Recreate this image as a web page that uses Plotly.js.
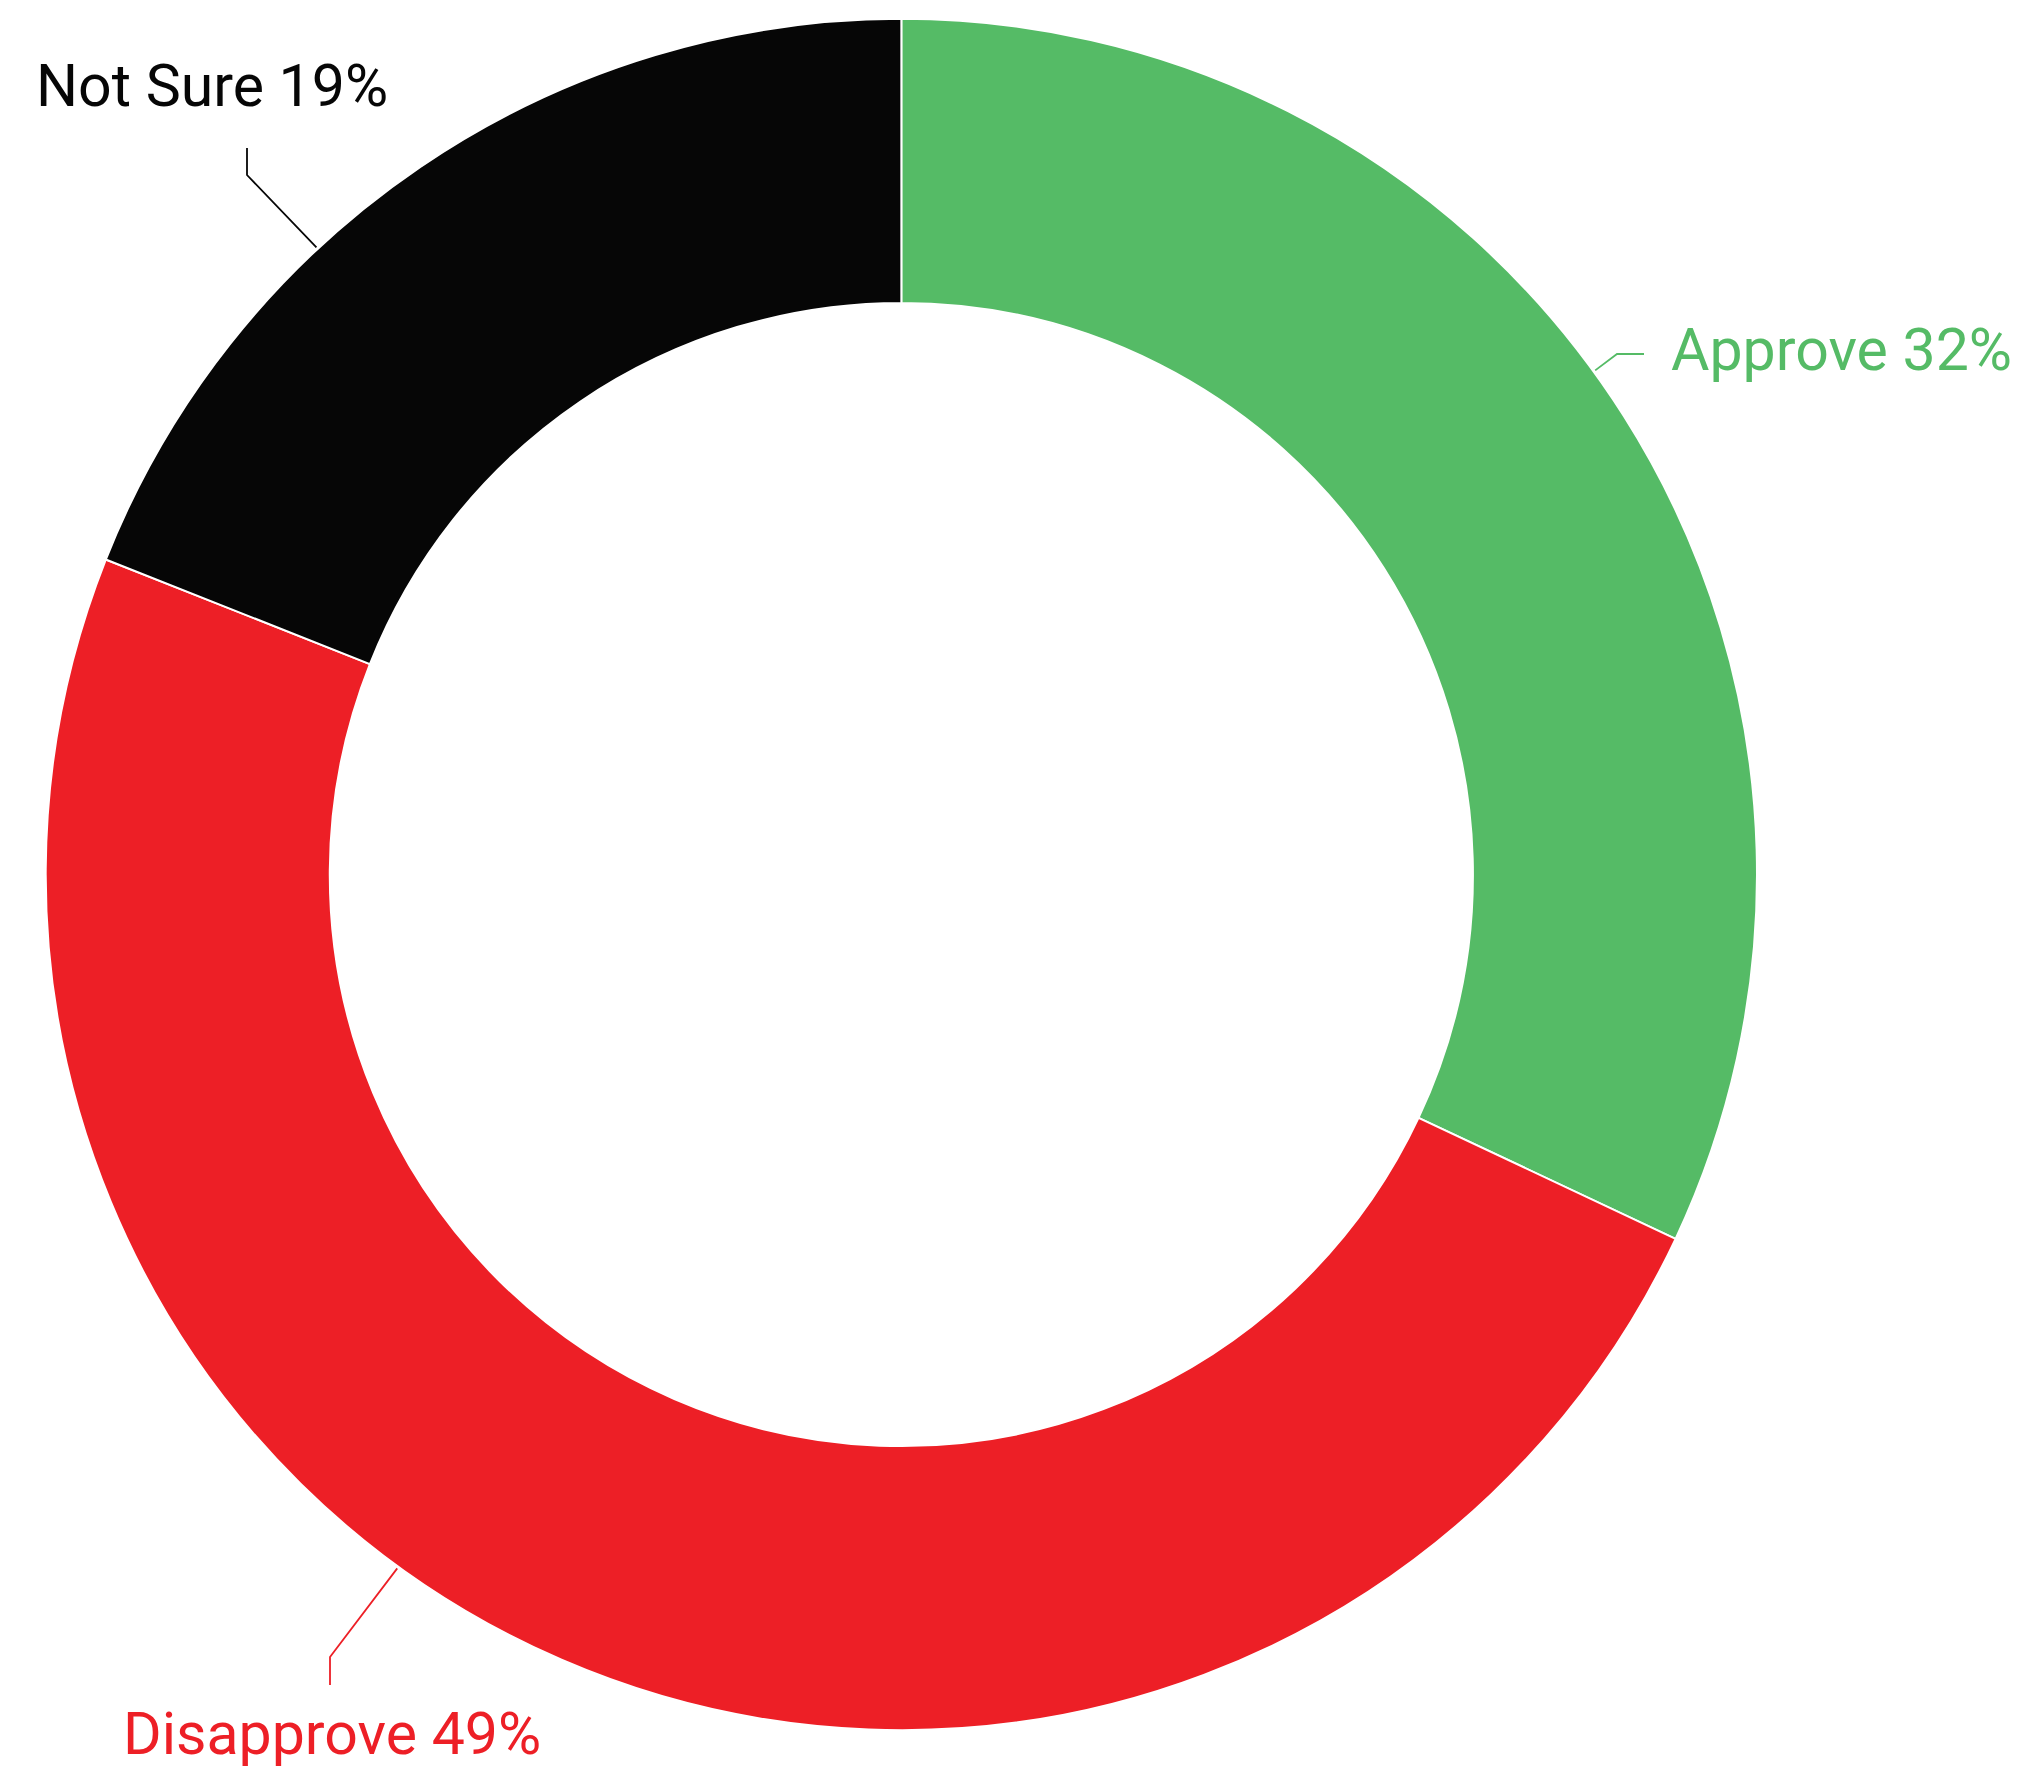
<!DOCTYPE html>
<html>
<head>
<meta charset="utf-8">
<script src="https://cdn.plot.ly/plotly-3.0.1.min.js"></script>
<style>
    html, body { margin: 0; padding: 0; background: #fff; }
    #chart { width: 2033px; height: 1767px; }
</style>
</head>
<body>
<div id="chart"></div>
<script>
// Poll result
const labels = ['Approve', 'Disapprove', 'Not Sure'];
const values = [32, 49, 19];
const colors = ['#55bb66', '#ed1f26', '#060606'];

const W = 2033;
const H = 1767;

// pie box in pixels (left, right, top, bottom)
const pieBox = {left: 45.7, right: 1757, top: 18, bottom: 1731};
const cx = (pieBox.left + pieBox.right) / 2;
const cy = (pieBox.top + pieBox.bottom) / 2;
const R = (pieBox.right - pieBox.left) / 2;

function px(x) { return x / W; }
function py(y) { return (H - y) / H; }

// point on the outer edge, angle in degrees clockwise from 12 o'clock
function edge(deg) {
    const a = deg * Math.PI / 180;
    return [cx + (R + 2) * Math.sin(a), cy - (R + 2) * Math.cos(a)];
}

// callout placement: where the leader leaves the ring, its elbow, its end, and the text spot
const callouts = [
    {angle: 54,  elbow: [1617, 354], end: [1644, 354], text: [1670, 350]},
    {angle: 216, elbow: [330, 1657], end: [330, 1685], text: [122, 1733]},
    {angle: 317, elbow: [247, 175],  end: [247, 148],  text: [35, 85]}
];

const shapes = [];
const annotations = [];

callouts.forEach((c, i) => {
    const p0 = edge(c.angle);
    const path = 'M ' + px(p0[0]) + ',' + py(p0[1]) +
        ' L ' + px(c.elbow[0]) + ',' + py(c.elbow[1]) +
        ' L ' + px(c.end[0]) + ',' + py(c.end[1]);
    shapes.push({
        type: 'path',
        xref: 'paper', yref: 'paper',
        path: path,
        line: {color: colors[i], width: 1.8}
    });
    annotations.push({
        xref: 'paper', yref: 'paper',
        x: px(c.text[0]), y: py(c.text[1]),
        xanchor: 'left', yanchor: 'middle',
        showarrow: false,
        borderpad: 0,
        text: labels[i] + ' ' + values[i] + '%',
        font: {family: 'Roboto, sans-serif', size: 59, color: colors[i]}
    });
});

const data = [{
    type: 'pie',
    labels: labels,
    values: values,
    hole: 0.668,
    sort: false,
    direction: 'clockwise',
    rotation: 0,
    textinfo: 'none',
    hoverinfo: 'label+percent',
    marker: {colors: colors, line: {color: '#ffffff', width: 2}},
    domain: {
        x: [px(pieBox.left), px(pieBox.right)],
        y: [py(pieBox.bottom), py(pieBox.top)]
    }
}];

const layout = {
    width: W,
    height: H,
    margin: {l: 0, r: 0, t: 0, b: 0},
    paper_bgcolor: '#ffffff',
    showlegend: false,
    shapes: shapes,
    annotations: annotations
};

Plotly.newPlot('chart', data, layout, {displayModeBar: false, staticPlot: true});
</script>
</body>
</html>
